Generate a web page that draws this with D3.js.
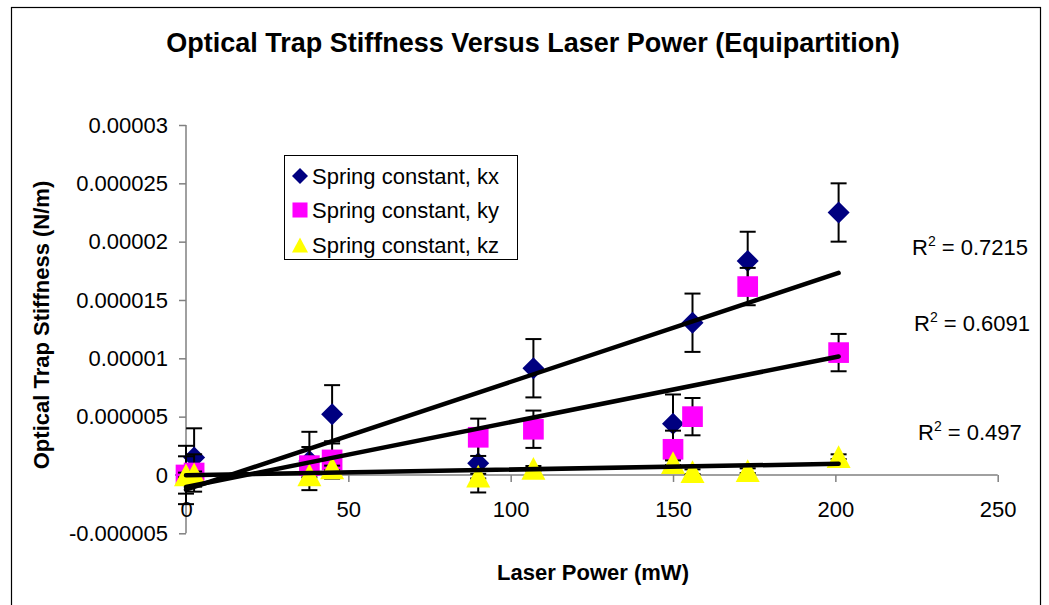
<!DOCTYPE html>
<html>
<head>
<meta charset="utf-8">
<script src="https://cdn.jsdelivr.net/npm/d3@7"></script>
<style>
  html, body { margin: 0; padding: 0; background: #fff; }
  svg { display: block; font-family: "Liberation Sans", Arial, sans-serif; }
</style>
</head>
<body>
<svg id="chart" width="1049" height="605"></svg>
<script>
// Laser power (mW) for each measurement
const power = [0, 2.5, 38, 45, 90, 107, 150, 156, 173, 201];

// Spring constants (N/m) from the equipartition method
const kx = [0, 1.5e-6, 1.2e-6, 5.2e-6, 1.0e-6, 9.15e-6, 4.4e-6, 13.05e-6, 18.35e-6, 22.5e-6];
const ky = [0, 0.17e-6, 0.8e-6, 1.29e-6, 3.23e-6, 3.92e-6, 2.2e-6, 5.0e-6, 16.15e-6, 10.49e-6];
const kz = [0, 0.1e-6, 0, 0.6e-6, -0.1e-6, 0.57e-6, 1.05e-6, 0.28e-6, 0.37e-6, 1.57e-6];

// Error bar half-widths (N/m)
const kxErr = [2.5e-6, 2.5e-6, 2.5e-6, 2.5e-6, 2.5e-6, 2.5e-6, 2.5e-6, 2.5e-6, 2.5e-6, 2.5e-6];
const kyErr = [1.6e-6, 1.6e-6, 1.6e-6, 1.6e-6, 1.6e-6, 1.6e-6, 1.6e-6, 1.6e-6, 1.6e-6, 1.6e-6];
const kzErr = [0.2e-6, 0.2e-6, 0.2e-6, 0.2e-6, 0.2e-6, 0.2e-6, 0.2e-6, 0.2e-6, 0.2e-6, 0.2e-6];

// Series names and coefficient-of-determination labels
const seriesNames = ["Spring constant, kx", "Spring constant, ky", "Spring constant, kz"];
const r2Labels = ["0.7215", "0.6091", "0.497"];

// Axis ticks
const xTicks = [0, 50, 100, 150, 200, 250];
const yTicks = [-0.000005, 0, 0.000005, 0.00001, 0.000015, 0.00002, 0.000025, 0.00003];
const yTickLabels = ["-0.000005", "0", "0.000005", "0.00001", "0.000015", "0.00002", "0.000025", "0.00003"];

const titleText = "Optical Trap Stiffness Versus Laser Power (Equipartition)";
const xTitle = "Laser Power (mW)";
const yTitle = "Optical Trap Stiffness (N/m)";

// ---------------------------------------------------------------
const svg = d3.select("#chart");
const FONT = 22;

const x = d3.scaleLinear().domain([0, 250]).range([186, 997.7]);
const y = d3.scaleLinear().domain([-0.000005, 0.00003]).range([533.3, 125]);

// chart frame
svg.append("rect")
  .attr("x", 11.5).attr("y", 7.5)
  .attr("width", 1029).attr("height", 620)
  .attr("fill", "#fff").attr("stroke", "#000").attr("stroke-width", 1.2);

// title
svg.append("text")
  .attr("x", 533).attr("y", 52)
  .attr("text-anchor", "middle")
  .attr("font-weight", "bold").attr("font-size", 27)
  .text(titleText);

// axis titles
svg.append("text")
  .attr("x", 593).attr("y", 580)
  .attr("text-anchor", "middle")
  .attr("font-weight", "bold").attr("font-size", FONT)
  .text(xTitle);

svg.append("text")
  .attr("transform", "translate(49,325) rotate(-90)")
  .attr("text-anchor", "middle")
  .attr("font-weight", "bold").attr("font-size", FONT)
  .text(yTitle);

// axes
const axisColor = "#808080";
const yAxis = svg.append("g")
  .attr("transform", `translate(${x(0)},0)`)
  .call(d3.axisLeft(y).tickValues(yTicks).tickSize(7).tickPadding(11)
    .tickFormat((d, i) => yTickLabels[i]));
const xAxis = svg.append("g")
  .attr("transform", `translate(0,${y(0)})`)
  .call(d3.axisBottom(x).tickValues(xTicks).tickSize(7).tickPadding(19)
    .tickFormat(d3.format("d")));
[xAxis, yAxis].forEach(g => {
  g.select(".domain").attr("stroke", axisColor).attr("stroke-width", 1.5);
  g.selectAll(".tick line").attr("stroke", axisColor).attr("stroke-width", 1.5);
  g.selectAll(".tick text").attr("font-size", FONT).attr("fill", "#000")
    .attr("font-family", "\"Liberation Sans\", Arial, sans-serif");
});
// axis lines drawn without end ticks
xAxis.select(".domain").attr("d", `M${x(0)},0H${x(250)}`);
yAxis.select(".domain").attr("d", `M0,${y(0.00003)}V${y(-0.000005)}`);

// marker shapes
const colors = ["#000080", "#FF00FF", "#FFFF00"];
function markerPath(kind, s) {
  if (kind === 0) return `M0,${-s}L${s},0L0,${s}L${-s},0Z`;           // diamond
  if (kind === 1) return `M${-s * 0.94},${-s * 0.94}h${s * 1.88}v${s * 1.88}h${-s * 1.88}Z`; // square
  return `M0,${-s * 0.95}L${s},${s * 0.95}L${-s},${s * 0.95}Z`;       // triangle
}

const seriesVals = [kx, ky, kz];
const seriesErr = [kxErr, kyErr, kzErr];
const plot = svg.append("g");

seriesVals.forEach((vals, si) => {
  const g = plot.append("g");
  const errs = seriesErr[si];
  const pts = power.map((p, i) => ({ p, v: vals[i], e: errs[i] }));
  // error bars
  const eb = g.selectAll(".eb").data(pts).join("g")
    .attr("stroke", "#000").attr("stroke-width", 2).attr("fill", "none");
  eb.append("line")
    .attr("x1", d => x(d.p)).attr("x2", d => x(d.p))
    .attr("y1", d => y(d.v + d.e)).attr("y2", d => y(d.v - d.e));
  eb.append("line")
    .attr("x1", d => x(d.p) - 8).attr("x2", d => x(d.p) + 8)
    .attr("y1", d => y(d.v + d.e)).attr("y2", d => y(d.v + d.e));
  eb.append("line")
    .attr("x1", d => x(d.p) - 8).attr("x2", d => x(d.p) + 8)
    .attr("y1", d => y(d.v - d.e)).attr("y2", d => y(d.v - d.e));
  // markers
  g.selectAll(".mk").data(pts).join("path")
    .attr("transform", d => `translate(${x(d.p)},${y(d.v)})`)
    .attr("d", markerPath(si, si === 2 ? 12 : 11))
    .attr("fill", colors[si]);
});

// least-squares trend lines
function linearFit(xs, ys) {
  const mx = d3.mean(xs), my = d3.mean(ys);
  let sxy = 0, sxx = 0;
  xs.forEach((xv, i) => { sxy += (xv - mx) * (ys[i] - my); sxx += (xv - mx) ** 2; });
  const b = sxy / sxx;
  return { b, a: my - b * mx };
}
const xMin = d3.min(power), xMax = d3.max(power);
seriesVals.forEach(vals => {
  const f = linearFit(power, vals);
  svg.append("line")
    .attr("x1", x(xMin)).attr("y1", y(f.a + f.b * xMin))
    .attr("x2", x(xMax)).attr("y2", y(f.a + f.b * xMax))
    .attr("stroke", "#000").attr("stroke-width", 4.5).attr("stroke-linecap", "round");
});

// R² labels
const r2Pos = [[912, 255], [914, 331], [918, 440]];
r2Labels.forEach((lab, i) => {
  const t = svg.append("text")
    .attr("x", r2Pos[i][0]).attr("y", r2Pos[i][1])
    .attr("font-size", FONT);
  t.append("tspan").text("R");
  t.append("tspan").attr("font-size", 14).attr("dy", -9).text("2");
  t.append("tspan").attr("dy", 9).text(" = " + lab);
});

// legend
const legend = svg.append("g");
legend.append("rect")
  .attr("x", 284.5).attr("y", 155.5).attr("width", 233).attr("height", 104)
  .attr("fill", "#fff").attr("stroke", "#000").attr("stroke-width", 1);
const legendY = [176, 210, 245];
seriesNames.forEach((name, i) => {
  legend.append("path")
    .attr("transform", `translate(300,${legendY[i]})`)
    .attr("d", markerPath(i, 8))
    .attr("fill", colors[i]);
  legend.append("text")
    .attr("x", 312).attr("y", legendY[i])
    .attr("dy", "0.35em")
    .attr("font-size", FONT)
    .text(name);
});
</script>
</body>
</html>
